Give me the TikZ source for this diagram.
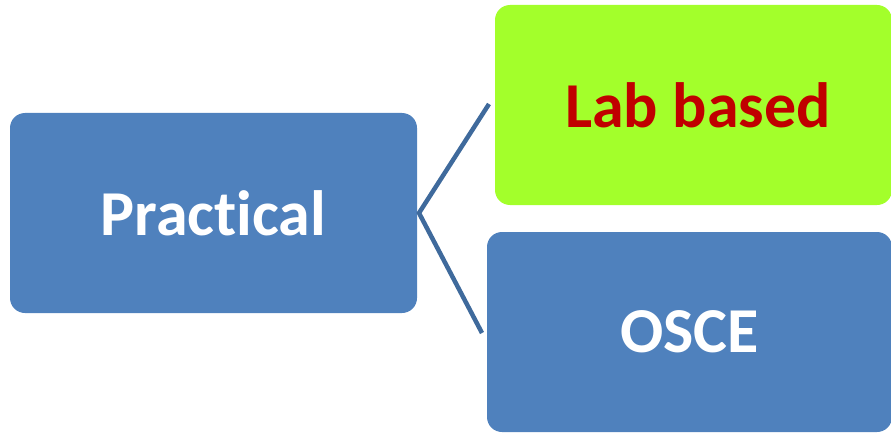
\documentclass[tikz,border=0pt]{standalone}
\usepackage{fontspec}
\setmainfont[RawFeature={-liga;-dlig;-clig}]{Carlito}
\definecolor{boxblue}{HTML}{4F81BD}
\definecolor{boxgreen}{HTML}{A3FF2B}
\definecolor{txtred}{HTML}{C00000}
\definecolor{lineblue}{HTML}{3F6A9C}
\begin{document}
\begin{tikzpicture}[x=1pt,y=-1pt,
  box/.style={rectangle, rounded corners=15pt, inner sep=0pt, font=\fontsize{64}{72}\selectfont\bfseries},
  conn/.style={draw=lineblue, line width=4.5pt, line join=miter}]
\useasboundingbox (0,0) rectangle (891,433);
\node[box, fill=boxblue, text=white, minimum width=407pt, minimum height=200pt] (prac) at (213.5,213) {Practical};
\node[box, fill=boxgreen, text=txtred, minimum width=397pt, minimum height=200pt] (lab) at (693.5,105) {\hspace*{9pt}Lab based};
\node[box, fill=boxblue, text=white, minimum width=405pt, minimum height=200pt] (osce) at (689.5,332) {OSCE};
\coordinate (j) at (419,213);
\coordinate (t) at (489,104);
\coordinate (b) at (482,333);
\draw[conn] (t) -- (j) -- (b);
\end{tikzpicture}
\end{document}
